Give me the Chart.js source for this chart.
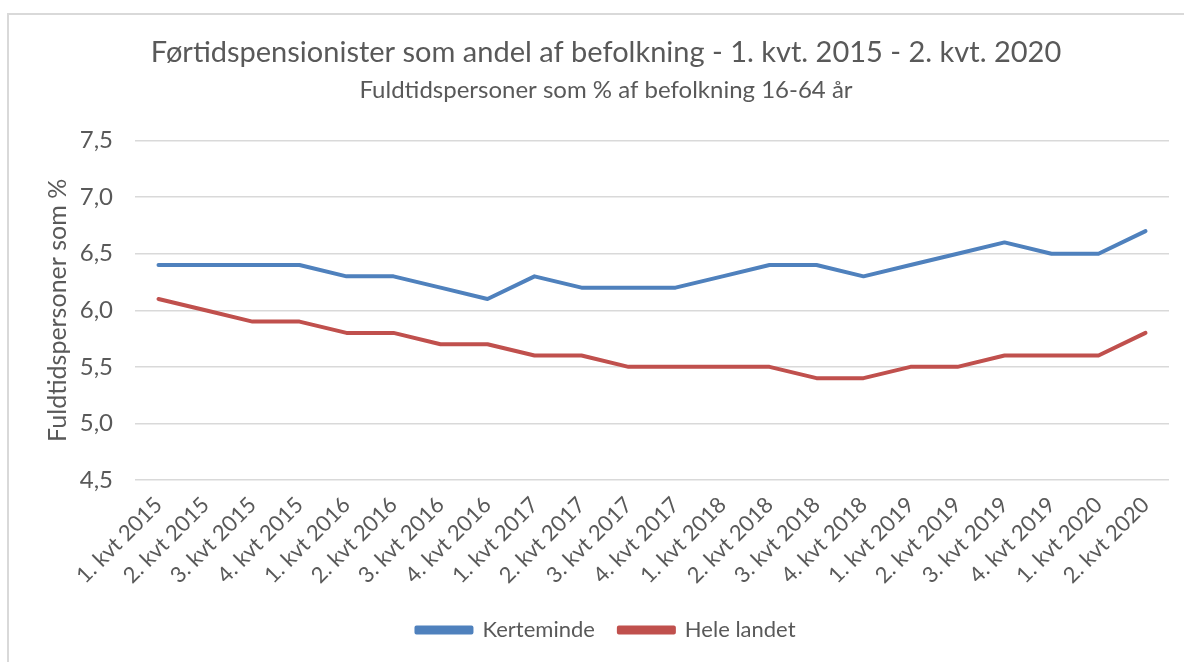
<!DOCTYPE html>
<html>
<head>
<meta charset="utf-8">
<script src="https://cdn.jsdelivr.net/npm/chart.js@4/dist/chart.umd.min.js"></script>
<style>
  html, body { margin: 0; padding: 0; background: #fff; }
  #wrap { position: relative; width: 1184px; height: 662px; overflow: hidden; }
  #frame { position: absolute; left: 7px; top: 13px; width: 1300px; height: 800px;
           border-left: 2px solid #d9d9d9; border-top: 2px solid #d9d9d9; }
  canvas { position: absolute; left: 0; top: 0; }
</style>
</head>
<body>
<div id="wrap">
  <div id="frame"></div>
  <canvas id="chart" width="1184" height="662"></canvas>
</div>
<script>
// Kvartaler
const labels = [
  '1. kvt 2015', '2. kvt 2015', '3. kvt 2015', '4. kvt 2015',
  '1. kvt 2016', '2. kvt 2016', '3. kvt 2016', '4. kvt 2016',
  '1. kvt 2017', '2. kvt 2017', '3. kvt 2017', '4. kvt 2017',
  '1. kvt 2018', '2. kvt 2018', '3. kvt 2018', '4. kvt 2018',
  '1. kvt 2019', '2. kvt 2019', '3. kvt 2019', '4. kvt 2019',
  '1. kvt 2020', '2. kvt 2020'
];

const kerteminde = [6.4, 6.4, 6.4, 6.4, 6.3, 6.3, 6.2, 6.1, 6.3, 6.2, 6.2,
                    6.2, 6.3, 6.4, 6.4, 6.3, 6.4, 6.5, 6.6, 6.5, 6.5, 6.7];
const heleLandet = [6.1, 6.0, 5.9, 5.9, 5.8, 5.8, 5.7, 5.7, 5.6, 5.6, 5.5,
                    5.5, 5.5, 5.5, 5.4, 5.4, 5.5, 5.5, 5.6, 5.6, 5.6, 5.8];

const yMin = 4.5, yMax = 7.5, yStep = 0.5;

const FONT = 'Lato, "Open Sans", sans-serif';
const GREY = '#595959';
const BLUE = '#4F81BD';
const RED = '#C0504D';

const line = (label, data, color) => ({
  label, data,
  borderColor: color, backgroundColor: color,
  borderWidth: 4, pointRadius: 0, tension: 0, fill: false,
  borderCapStyle: 'round', borderJoinStyle: 'round',
});

new Chart(document.getElementById('chart'), {
  type: 'line',
  data: {
    labels,
    datasets: [
      line('Kerteminde', kerteminde, BLUE),
      line('Hele landet', heleLandet, RED),
    ]
  },
  options: {
    responsive: false, animation: false,
    layout: { padding: { left: 43, right: 15, top: 35, bottom: 11 } },
    plugins: {
      title: {
        display: true,
        text: 'Førtidspensionister som andel af befolkning - 1. kvt. 2015 - 2. kvt. 2020',
        color: GREY, font: { family: FONT, size: 29, weight: 'normal' },
        padding: { top: 0, bottom: 6 }
      },
      subtitle: {
        display: true,
        text: 'Fuldtidspersoner som % af befolkning 16-64 år',
        color: GREY, font: { family: FONT, size: 24, weight: 'normal' },
        padding: { top: 0, bottom: 36 }
      },
      legend: {
        position: 'bottom',
        labels: {
          color: GREY, font: { family: FONT, size: 22 },
          boxWidth: 55, boxHeight: 5, padding: 24
        }
      },
      tooltip: { enabled: false }
    },
    scales: {
      x: {
        offset: true,
        grid: { display: false },
        border: { display: false },
        ticks: {
          autoSkip: false, minRotation: 45, maxRotation: 45,
          color: GREY, font: { family: FONT, size: 22 }, padding: 4
        },
        afterFit: s => { s.height = 115; }
      },
      y: {
        min: yMin, max: yMax,
        grid: { color: '#d9d9d9', lineWidth: 1.5, drawTicks: false },
        border: { display: false },
        ticks: {
          stepSize: yStep, color: GREY, font: { family: FONT, size: 24 }, padding: 22,
          callback: v => v.toFixed(1).replace('.', ',')
        },
        title: {
          display: true, text: 'Fuldtidspersoner som %',
          color: GREY, font: { family: FONT, size: 25 }, padding: { top: 0, bottom: 0 }
        },
        afterFit: s => { s.width = 92; }
      }
    }
  }
});
</script>
</body>
</html>
